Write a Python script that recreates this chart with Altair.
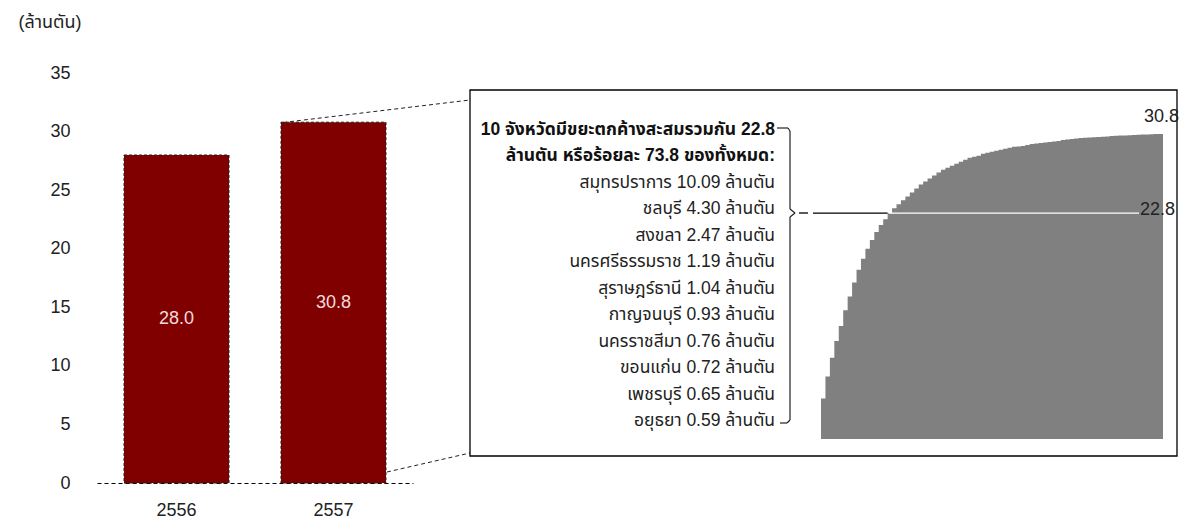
import altair as alt
import pandas as pd

FONT = "Liberation Sans, Arial, Noto Sans Thai, Loma, Garuda, sans-serif"

# ---------------- data ----------------
years = ["2556", "2557"]
totals = [28.0, 30.8]

provinces = ["สมุทรปราการ", "ชลบุรี", "สงขลา", "นครศรีธรรมราช", "สุราษฎร์ธานี",
             "กาญจนบุรี", "นครราชสีมา", "ขอนแก่น", "เพชรบุรี", "อยุธยา"]
province_values = [10.09, 4.30, 2.47, 1.19, 1.04, 0.93, 0.76, 0.72, 0.65, 0.59]
unit = "ล้านตัน"
header_lines = ["10 จังหวัดมีขยะตกค้างสะสมรวมกัน 22.8",
                "ล้านตัน หรือร้อยละ 73.8 ของทั้งหมด:"]
top10_total = 22.8

# cumulative waste over 77 provinces
cumulative = [4.1, 6.3, 8.2, 9.9, 11.4, 13.0, 14.4, 15.8, 17.1, 18.2,
              19.2, 20.1, 20.9, 21.6, 22.2, 22.8, 23.3, 23.7, 24.1, 24.5,
              24.9, 25.3, 25.7, 26.0, 26.3, 26.6, 26.9, 27.2, 27.4, 27.6,
              27.8, 28.0, 28.2, 28.4, 28.5, 28.6, 28.8, 28.9, 29.0, 29.1,
              29.2, 29.3, 29.4, 29.5, 29.55, 29.6, 29.7, 29.8, 29.85, 29.9,
              29.95, 30.0, 30.05, 30.1, 30.2, 30.25, 30.3, 30.35, 30.4, 30.42,
              30.45, 30.48, 30.5, 30.53, 30.56, 30.59, 30.62, 30.64, 30.66, 30.68,
              30.7, 30.72, 30.74, 30.76, 30.78, 30.79, 30.8]

one = pd.DataFrame({"a": [0]})
TXT = "#222222"

# ---------------- left bar chart ----------------
bar_df = pd.DataFrame({"year": years, "total": totals})
x_bar = alt.X("year:N", sort=years,
              scale=alt.Scale(range=[0, 316], paddingInner=0.3312, paddingOuter=0.172),
              axis=alt.Axis(title=None, labelAngle=0, ticks=False, domain=True,
                            domainDash=[4, 3], domainColor="black", domainWidth=1,
                            labelFontSize=18, labelColor=TXT, labelPadding=18, labelFont=FONT))
y_bar = alt.Y("total:Q", scale=alt.Scale(domain=[0, 35], nice=False),
              axis=alt.Axis(values=[0, 5, 10, 15, 20, 25, 30, 35], grid=False, domain=False,
                            ticks=False, tickSize=0, labelPadding=27, labelFontSize=18,
                            labelColor=TXT, labelFont=FONT,
                            title="(ล้านตัน)", titleAngle=0, titleAlign="left",
                            titleBaseline="middle", titleX=-79, titleY=-51,
                            titleFontSize=18, titleFontWeight="normal", titleColor=TXT,
                            titleFont=FONT))
bars = alt.Chart(bar_df).mark_bar(color="#800000", stroke="#222222", strokeWidth=1,
                                  strokeDash=[3, 2]).encode(x=x_bar, y=y_bar)
bar_labels = alt.Chart(bar_df).transform_calculate(
    mid="datum.total / 2", lab="format(datum.total, '.1f')"
).mark_text(fontSize=18, color="#f2dcdb", baseline="middle", font=FONT).encode(
    x=alt.X("year:N", sort=years),
    y=alt.Y("mid:Q", title="(ล้านตัน)"),
    text="lab:N",
)
left = alt.layer(bars, bar_labels)

# ---------------- inset cumulative chart ----------------
n_prov = len(cumulative)
step_df = pd.DataFrame({
    "pos": list(range(0, n_prov)) + [n_prov],
    "cum": cumulative + [cumulative[-1]],
})
xs = alt.Scale(domain=[0, n_prov], range=[724, 1066], nice=False, zero=False)
ys = alt.Scale(domain=[0, cumulative[-1]], range=[366, 61], nice=False)
steps = alt.Chart(step_df).mark_area(color="#808080", interpolate="step-after").encode(
    x=alt.X("pos:Q", scale=xs, axis=None),
    y=alt.Y("cum:Q", scale=ys, axis=None),
    y2=alt.datum(0),
)
line_black = alt.Chart(one).mark_rule(color="black", strokeWidth=1.2).encode(
    x=alt.datum(-1.8), x2=alt.datum(15.0), y=alt.datum(top10_total))
line_white = alt.Chart(one).mark_rule(color="white", strokeWidth=1.2).encode(
    x=alt.datum(15.3), x2=alt.datum(71.6), y=alt.datum(top10_total))
lab_total = alt.Chart(one).mark_text(align="right", baseline="middle", dx=16, dy=-17,
                                     fontSize=18, color=TXT, font=FONT).encode(
    x=alt.datum(n_prov), y=alt.datum(cumulative[-1]), text=alt.value(f"{totals[-1]:.1f}"))
lab_top = alt.Chart(one).mark_text(align="left", baseline="middle", dx=1, dy=-3,
                                   fontSize=18, color=TXT, font=FONT).encode(
    x=alt.datum(71.6), y=alt.datum(top10_total), text=alt.value(f"{top10_total:.1f}"))
inset = alt.layer(steps, line_black, line_white, lab_total, lab_top)

# ---------------- text block ----------------
tb_scale = alt.Scale(domain=[0, 11], range=[57, 348], nice=False)
head_df = pd.DataFrame({"line": [0, 1], "t": header_lines})
prov_df = pd.DataFrame({
    "line": list(range(2, 12)),
    "t": [f"{p} {v:.2f} {unit}" for p, v in zip(provinces, province_values)],
})
head_txt = alt.Chart(head_df).mark_text(align="right", baseline="middle", fontSize=17.5,
                                        fontWeight="bold", color="#111111", font=FONT).encode(
    x=alt.value(678), y=alt.Y("line:Q", scale=tb_scale, axis=None), text="t:N")
prov_txt = alt.Chart(prov_df).mark_text(align="right", baseline="middle", fontSize=17.5,
                                        color=TXT, font=FONT).encode(
    x=alt.value(678), y=alt.Y("line:Q", scale=tb_scale, axis=None), text="t:N")
text_block = alt.layer(head_txt, prov_txt)


# ---------------- frame, connectors, bracket ----------------
def seg(x1, y1, x2, y2, dash=None, width=1.0, color="#222222"):
    props = dict(color=color, strokeWidth=width)
    if dash:
        props["strokeDash"] = dash
    return alt.Chart(one).mark_rule(**props).encode(
        x=alt.value(x1), y=alt.value(y1), x2=alt.value(x2), y2=alt.value(y2))


box = alt.Chart(one).mark_rect(fill="white", stroke="black", strokeWidth=1.3).encode(
    x=alt.value(373), x2=alt.value(1080), y=alt.value(17), y2=alt.value(383))
conn_up = seg(186, 49.5, 373, 27, dash=[4, 3])
conn_low = seg(290, 399, 373, 380, dash=[4, 3])
bracket = [
    seg(680, 55, 691, 55, width=1.2),
    seg(691, 55, 693, 58, width=1.2),
    seg(693, 58, 693, 136, width=1.2),
    seg(693, 136, 698, 140, width=1.2),
    seg(698, 140, 693, 144, width=1.2),
    seg(693, 144, 693, 347, width=1.2),
    seg(693, 347, 690, 350, width=1.2),
    seg(690, 350, 683, 350, width=1.2),
    seg(702, 140, 711, 140, width=1.5),
]

chart = alt.layer(
    conn_up, conn_low, box, left, inset, text_block, *bracket
).resolve_scale(
    x="independent", y="independent"
).properties(
    width=1080, height=410,
    autosize=alt.AutoSizeParams(type="none"),
    padding={"left": 89, "top": 65, "right": 5, "bottom": 36},
).configure(font=FONT).configure_view(stroke=None)

chart.save("out.html", embed_options={"renderer": "svg", "actions": False})
